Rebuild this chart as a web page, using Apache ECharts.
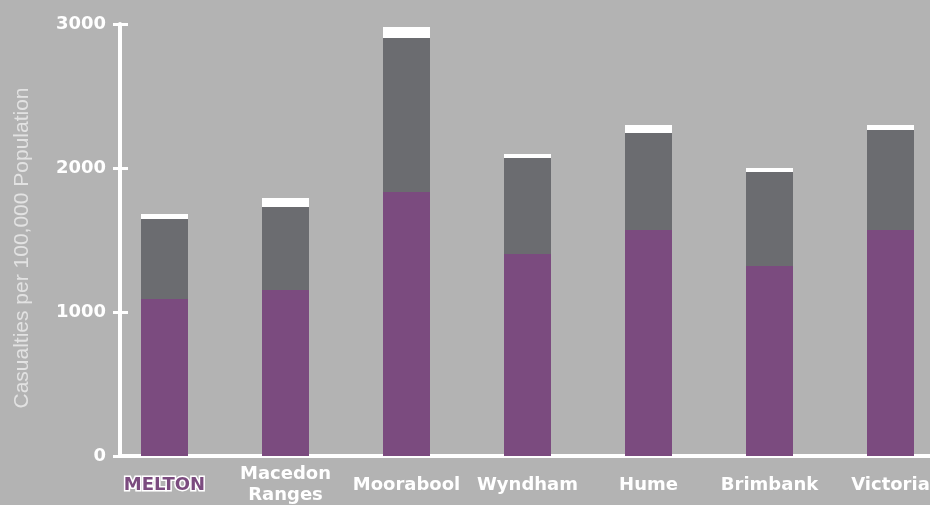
<!DOCTYPE html>
<html>
<head>
<meta charset="utf-8">
<script src="https://cdn.jsdelivr.net/npm/echarts@6/dist/echarts.min.js"></script>
<style>
html,body{margin:0;padding:0;background:#b3b3b3;}
#chart{width:930px;height:505px;}
</style>
</head>
<body>
<div id="chart"></div>
<script>
const categories = ['MELTON', 'Macedon\nRanges', 'Moorabool', 'Wyndham', 'Hume', 'Brimbank', 'Victoria'];
const purpleValues = [1090, 1153, 1833, 1403, 1569, 1319, 1569];
const greyValues = [556, 576, 1070, 666, 674, 653, 695];
const whiteValues = [35, 63, 76, 28, 56, 28, 35];
const yTicks = [0, 1000, 2000, 3000];
const yAxisTitle = 'Casualties per 100,000 Population';

const chart = echarts.init(document.getElementById('chart'), null, {renderer: 'canvas'});
const yMin = yTicks[0], yMax = yTicks[yTicks.length - 1], yStep = yTicks[1] - yTicks[0];

const option = {
  backgroundColor: '#b3b3b3',
  animation: false,
  grid: [
    {left: 104, width: 847, top: 24, bottom: 49, containLabel: false, outerBoundsMode: 'none'},
    {left: 120, right: 0, top: 24, bottom: 49, containLabel: false, outerBoundsMode: 'none'}
  ],
  xAxis: [
    {
      type: 'category', gridIndex: 0, data: categories,
      axisLine: {show: false}, axisTick: {show: false},
      axisLabel: {
        interval: 0, margin: 29, color: '#ffffff', verticalAlign: 'middle',
        fontFamily: 'DejaVu Sans', fontWeight: 'bold', fontSize: 18, lineHeight: 21,
        formatter: function (v) { return v === 'MELTON' ? '{m|' + v + '}' : v; },
        rich: {
          m: {color: '#7b4b7f', textBorderColor: '#ffffff', textBorderWidth: 3,
              fontFamily: 'DejaVu Sans', fontWeight: 'bold', fontSize: 18, lineHeight: 21}
        }
      }
    },
    {
      type: 'category', gridIndex: 1, data: categories,
      axisLine: {show: true, lineStyle: {color: '#ffffff', width: 4}},
      axisTick: {show: false}, axisLabel: {show: false}
    }
  ],
  yAxis: [
    {
      type: 'value', gridIndex: 0, min: yMin, max: yMax, interval: yStep, offset: -16,
      axisLine: {show: false}, axisLabel: {show: false}, splitLine: {show: false},
      axisTick: {show: true, inside: true, length: 8, lineStyle: {color: '#ffffff', width: 3}}
    },
    {
      type: 'value', gridIndex: 1, min: yMin, max: yMax, interval: yStep,
      axisLine: {show: true, lineStyle: {color: '#ffffff', width: 4}},
      axisTick: {show: true, length: 7, lineStyle: {color: '#ffffff', width: 3}},
      splitLine: {show: false},
      axisLabel: {margin: 14, color: '#ffffff', fontFamily: 'DejaVu Sans', fontWeight: 'bold', fontSize: 18,
                  formatter: function (v) { return String(v); }},
      name: yAxisTitle, nameLocation: 'middle', nameGap: 87, nameRotate: 90,
      nameTextStyle: {color: '#e2e2e2', fontFamily: 'Liberation Sans', fontSize: 21, padding: [0, 16, 0, 0]}
    }
  ],
  series: [
    {type: 'bar', name: 'purple', stack: 't', xAxisIndex: 0, yAxisIndex: 0, barWidth: 47,
     data: purpleValues, itemStyle: {color: '#7b4b7f'}},
    {type: 'bar', name: 'grey', stack: 't', xAxisIndex: 0, yAxisIndex: 0, barWidth: 47,
     data: greyValues, itemStyle: {color: '#6b6c70'}},
    {type: 'bar', name: 'white', stack: 't', xAxisIndex: 0, yAxisIndex: 0, barWidth: 47,
     data: whiteValues, itemStyle: {color: '#ffffff'}}
  ]
};
chart.setOption(option);
</script>
</body>
</html>
